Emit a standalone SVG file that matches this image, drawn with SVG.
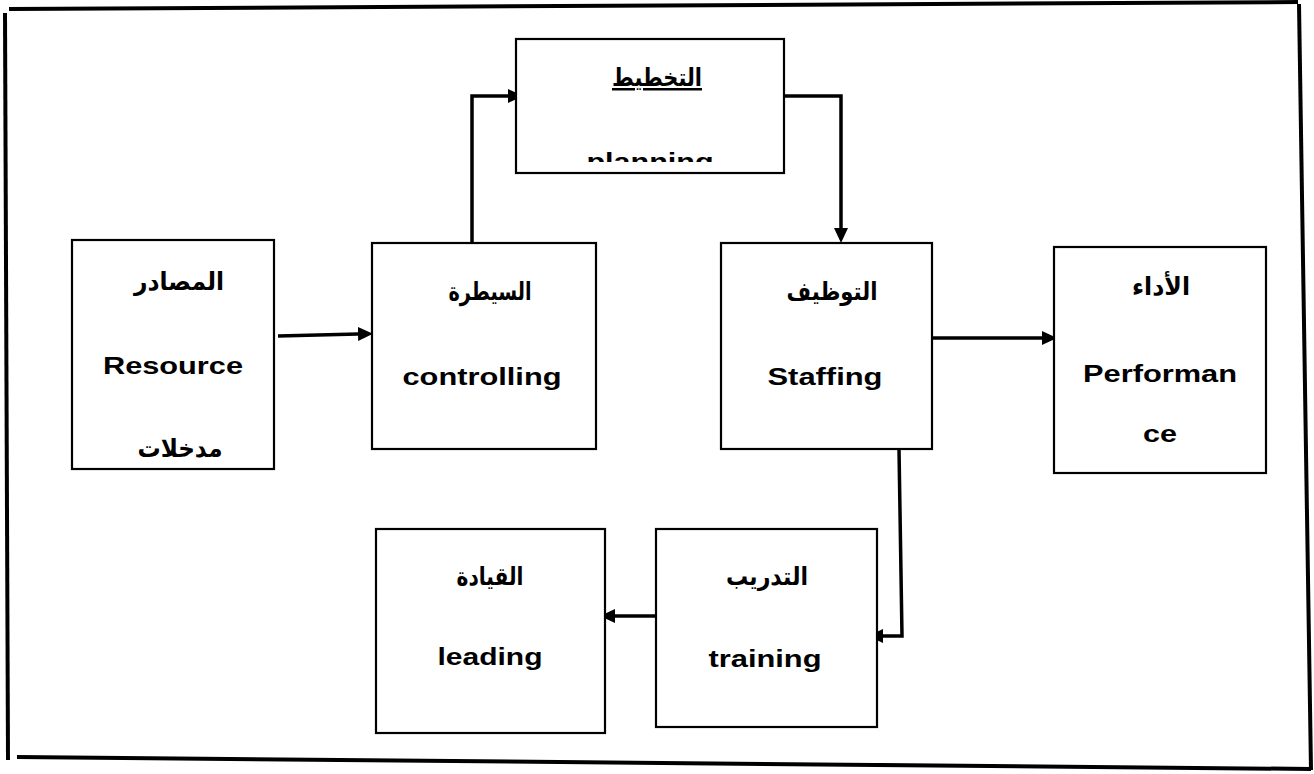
<svg xmlns="http://www.w3.org/2000/svg" width="1314" height="774" viewBox="0 0 1314 774">
  <style>
    .box { fill: #ffffff; stroke: #000000; stroke-width: 2.2; }
    .frame { stroke: #000000; stroke-width: 4; fill: none; }
    .link { stroke: #000000; stroke-width: 3.5; fill: none; }
    .lbl { font-family: "Liberation Sans", "DejaVu Sans", Arial, sans-serif; font-weight: bold; font-size: 24px; fill: #000000; text-anchor: middle; }
    .ar { font-family: "DejaVu Sans", "Liberation Sans", sans-serif; font-weight: bold; font-size: 25px; fill: #000000; text-anchor: middle; }
  </style>
  <defs>
    <marker id="head" markerUnits="userSpaceOnUse" markerWidth="16" markerHeight="15" refX="0" refY="7" orient="auto">
      <path d="M0,0 L15,7 L0,14 z" fill="#000000"/>
    </marker>
    <clipPath id="planClip">
      <rect x="517" y="40" width="266" height="122"/>
    </clipPath>
  </defs>

  <rect width="1314" height="774" fill="#ffffff"/>

  <!-- page frame: four loose edges -->
  <g id="frame">
    <line class="frame" x1="9" y1="9" x2="1298" y2="2"/>
    <line class="frame" x1="1299" y1="4" x2="1311" y2="770"/>
    <line class="frame" x1="17" y1="757" x2="1311" y2="769"/>
    <line class="frame" x1="5" y1="13" x2="8" y2="760"/>
  </g>

  <g id="connectors">
    <path class="link" d="M278,336 L358,334" marker-end="url(#head)"/>
    <path class="link" d="M472,243 L472,96 L508,96" marker-end="url(#head)"/>
    <path class="link" d="M784,96 L841,96 L841,228" marker-end="url(#head)"/>
    <path class="link" d="M932,338 L1042,338" marker-end="url(#head)"/>
    <path class="link" d="M899,449 L902,636 L883,636" marker-end="url(#head)"/>
    <path class="link" d="M658,616 L615,616" marker-end="url(#head)"/>
  </g>

  <g id="resource">
    <rect class="box" x="72" y="240" width="202" height="229"/>
    <text class="ar" x="179" y="290" textLength="90" lengthAdjust="spacingAndGlyphs">المصادر</text>
    <text class="lbl" x="173" y="374" textLength="140" lengthAdjust="spacingAndGlyphs">Resource</text>
    <text class="ar" x="180" y="457" textLength="85" lengthAdjust="spacingAndGlyphs">مدخلات</text>
  </g>

  <g id="controlling">
    <rect class="box" x="372" y="243" width="224" height="206"/>
    <text class="ar" x="490" y="300" textLength="83" lengthAdjust="spacingAndGlyphs">السيطرة</text>
    <text class="lbl" x="482" y="385" textLength="159" lengthAdjust="spacingAndGlyphs">controlling</text>
  </g>

  <g id="planning">
    <rect class="box" x="516" y="39" width="268" height="134"/>
    <text class="ar" x="657" y="86" textLength="90" lengthAdjust="spacingAndGlyphs" text-decoration="underline">التخطيط</text>
    <text class="lbl" x="650" y="170" textLength="127" lengthAdjust="spacingAndGlyphs" clip-path="url(#planClip)">planning</text>
  </g>

  <g id="staffing">
    <rect class="box" x="721" y="243" width="211" height="206"/>
    <text class="ar" x="832" y="300" textLength="91" lengthAdjust="spacingAndGlyphs">التوظيف</text>
    <text class="lbl" x="825" y="385" textLength="115" lengthAdjust="spacingAndGlyphs">Staffing</text>
  </g>

  <g id="performance">
    <rect class="box" x="1054" y="247" width="212" height="226"/>
    <text class="ar" x="1161" y="295" textLength="58" lengthAdjust="spacingAndGlyphs">الأداء</text>
    <text class="lbl" x="1160" y="382" textLength="154" lengthAdjust="spacingAndGlyphs">Performan</text>
    <text class="lbl" x="1160" y="442" textLength="34" lengthAdjust="spacingAndGlyphs">ce</text>
  </g>

  <g id="training">
    <rect class="box" x="656" y="529" width="221" height="198"/>
    <text class="ar" x="767" y="585" textLength="82" lengthAdjust="spacingAndGlyphs">التدريب</text>
    <text class="lbl" x="765" y="667" textLength="113" lengthAdjust="spacingAndGlyphs">training</text>
  </g>

  <g id="leading">
    <rect class="box" x="376" y="529" width="229" height="204"/>
    <text class="ar" x="490" y="585" textLength="67" lengthAdjust="spacingAndGlyphs">القيادة</text>
    <text class="lbl" x="490" y="665" textLength="105" lengthAdjust="spacingAndGlyphs">leading</text>
  </g>
</svg>
